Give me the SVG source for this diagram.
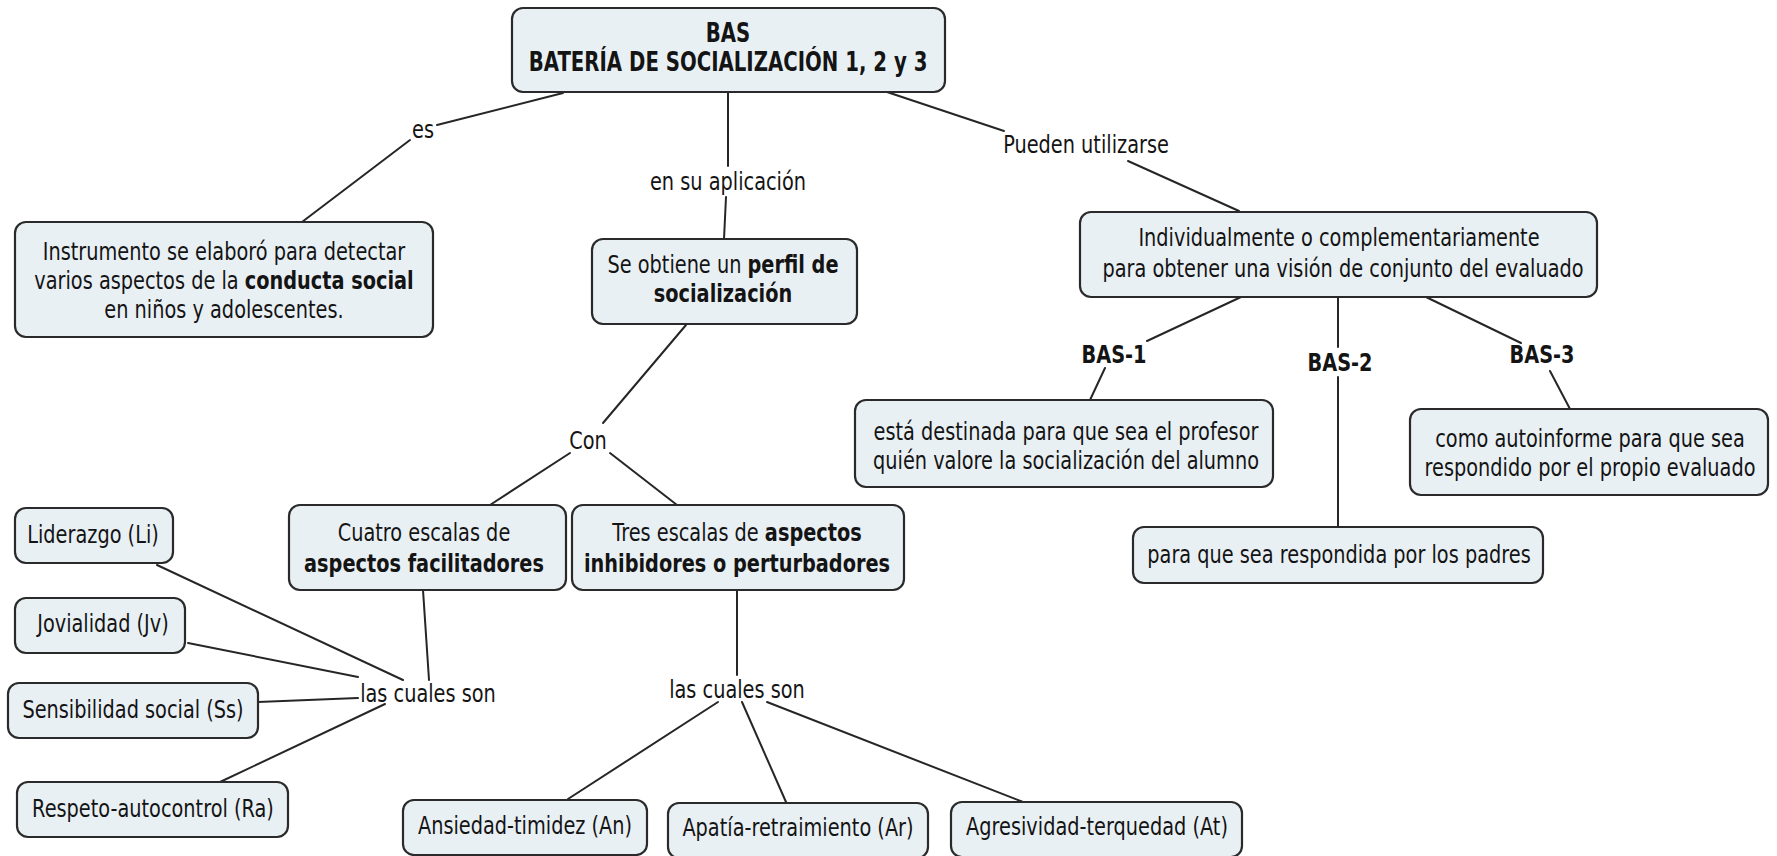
<svg xmlns="http://www.w3.org/2000/svg" width="1777" height="856" viewBox="0 0 1777 856">
<style>
.box{fill:#e9f0f4;stroke:#2a2a2a;stroke-width:2.2}
.t{font-family:"DejaVu Sans","Liberation Sans",sans-serif;font-size:23px;fill:#141414;text-anchor:middle}
.b{font-weight:bold}
.lk line{stroke:#262626;stroke-width:2;stroke-linecap:round}
</style>
<rect width="1777" height="856" fill="#ffffff"/>
<g class="lk" id="connectors">
<line x1="563" y1="93" x2="437" y2="125"/>
<line x1="410" y1="140" x2="302" y2="222"/>
<line x1="728" y1="92" x2="728" y2="166"/>
<line x1="726" y1="197" x2="724" y2="239"/>
<line x1="887" y1="92" x2="1004" y2="131"/>
<line x1="1128" y1="161" x2="1239" y2="211"/>
<line x1="686" y1="325" x2="603" y2="423"/>
<line x1="570" y1="453" x2="490" y2="505"/>
<line x1="610" y1="453" x2="677" y2="505"/>
<line x1="423" y1="590" x2="429" y2="680"/>
<line x1="157" y1="565" x2="403" y2="680"/>
<line x1="188" y1="643" x2="358" y2="677"/>
<line x1="258" y1="702" x2="358" y2="698"/>
<line x1="220" y1="782" x2="385" y2="704"/>
<line x1="737" y1="590" x2="737" y2="675"/>
<line x1="718" y1="702" x2="568" y2="799"/>
<line x1="742" y1="702" x2="786" y2="802"/>
<line x1="767" y1="702" x2="1023" y2="802"/>
<line x1="1241" y1="297" x2="1147" y2="341"/>
<line x1="1105" y1="368" x2="1090" y2="400"/>
<line x1="1338" y1="297" x2="1338" y2="347"/>
<line x1="1338" y1="377" x2="1338" y2="527"/>
<line x1="1426" y1="297" x2="1521" y2="343"/>
<line x1="1550" y1="371" x2="1570" y2="409"/>
</g>
<g id="labels">
<text class="t" transform="translate(423,138) scale(0.84,1.1)">es</text>
<text class="t" transform="translate(728,190) scale(0.84,1.1)">en su aplicación</text>
<text class="t" transform="translate(1086,153) scale(0.84,1.1)">Pueden utilizarse</text>
<text class="t b" transform="translate(1114,363) scale(0.84,1.1)">BAS-1</text>
<text class="t b" transform="translate(1340,371) scale(0.84,1.1)">BAS-2</text>
<text class="t b" transform="translate(1542,363) scale(0.84,1.1)">BAS-3</text>
<text class="t" transform="translate(588,449) scale(0.84,1.1)">Con</text>
<text class="t" transform="translate(428,702) scale(0.84,1.1)">las cuales son</text>
<text class="t" transform="translate(737,698) scale(0.84,1.1)">las cuales son</text>
</g>
<g id="n-bas">
<rect class="box" x="512" y="8" width="433" height="84" rx="11"/>
<text class="t b" style="font-size:23.5px" transform="translate(728,42) scale(0.84,1.1)">BAS</text>
<text class="t b" style="font-size:23.5px" transform="translate(728,71) scale(0.84,1.1)">BATERÍA DE SOCIALIZACIÓN 1, 2 y 3</text>
</g>
<g id="n-instrumento">
<rect class="box" x="15" y="222" width="418" height="115" rx="11"/>
<text class="t" transform="translate(224,260) scale(0.84,1.1)">Instrumento se elaboró para detectar</text>
<text class="t" transform="translate(224,289) scale(0.84,1.1)">varios aspectos de la <tspan class="b">conducta social</tspan></text>
<text class="t" transform="translate(224,318) scale(0.84,1.1)">en niños y adolescentes.</text>
</g>
<g id="n-perfil">
<rect class="box" x="592" y="239" width="265" height="85" rx="11"/>
<text class="t" transform="translate(723,273) scale(0.84,1.1)">Se obtiene un <tspan class="b">perfil de</tspan></text>
<text class="t b" transform="translate(723,302) scale(0.84,1.1)">socialización</text>
</g>
<g id="n-individual">
<rect class="box" x="1080" y="212" width="517" height="85" rx="11"/>
<text class="t" transform="translate(1339,246) scale(0.84,1.1)">Individualmente o complementariamente</text>
<text class="t" transform="translate(1343,277) scale(0.84,1.1)">para obtener una visión de conjunto del evaluado</text>
</g>
<g id="n-profesor">
<rect class="box" x="855" y="400" width="418" height="87" rx="11"/>
<text class="t" transform="translate(1066,440) scale(0.84,1.1)">está destinada para que sea el profesor</text>
<text class="t" transform="translate(1066,469) scale(0.84,1.1)">quién valore la socialización del alumno</text>
</g>
<g id="n-autoinforme">
<rect class="box" x="1410" y="409" width="358" height="86" rx="11"/>
<text class="t" transform="translate(1590,447) scale(0.84,1.1)">como autoinforme para que sea</text>
<text class="t" transform="translate(1590,476) scale(0.84,1.1)">respondido por el propio evaluado</text>
</g>
<g id="n-padres">
<rect class="box" x="1133" y="527" width="410" height="56" rx="11"/>
<text class="t" transform="translate(1339,563) scale(0.84,1.1)">para que sea respondida por los padres</text>
</g>
<g id="n-liderazgo">
<rect class="box" x="15" y="508" width="158" height="55" rx="11"/>
<text class="t" transform="translate(93,543) scale(0.84,1.1)">Liderazgo (Li)</text>
</g>
<g id="n-jovialidad">
<rect class="box" x="15" y="598" width="170" height="55" rx="11"/>
<text class="t" transform="translate(103,632) scale(0.84,1.1)">Jovialidad (Jv)</text>
</g>
<g id="n-sensibilidad">
<rect class="box" x="8" y="683" width="250" height="55" rx="11"/>
<text class="t" transform="translate(133,718) scale(0.84,1.1)">Sensibilidad social (Ss)</text>
</g>
<g id="n-respeto">
<rect class="box" x="17" y="782" width="271" height="55" rx="11"/>
<text class="t" transform="translate(153,817) scale(0.84,1.1)">Respeto-autocontrol (Ra)</text>
</g>
<g id="n-cuatro">
<rect class="box" x="289" y="505" width="277" height="85" rx="11"/>
<text class="t" transform="translate(424,541) scale(0.84,1.1)">Cuatro escalas de</text>
<text class="t b" transform="translate(424,572) scale(0.84,1.1)">aspectos facilitadores</text>
</g>
<g id="n-tres">
<rect class="box" x="572" y="505" width="332" height="85" rx="11"/>
<text class="t" transform="translate(737,541) scale(0.84,1.1)">Tres escalas de <tspan class="b">aspectos</tspan></text>
<text class="t b" transform="translate(737,572) scale(0.84,1.1)">inhibidores o perturbadores</text>
</g>
<g id="n-ansiedad">
<rect class="box" x="403" y="800" width="244" height="55" rx="11"/>
<text class="t" transform="translate(525,834) scale(0.84,1.1)">Ansiedad-timidez (An)</text>
</g>
<g id="n-apatia">
<rect class="box" x="668" y="803" width="260" height="55" rx="11"/>
<text class="t" transform="translate(798,836) scale(0.84,1.1)">Apatía-retraimiento (Ar)</text>
</g>
<g id="n-agresividad">
<rect class="box" x="951" y="802" width="291" height="55" rx="11"/>
<text class="t" transform="translate(1097,835) scale(0.84,1.1)">Agresividad-terquedad (At)</text>
</g>
</svg>
